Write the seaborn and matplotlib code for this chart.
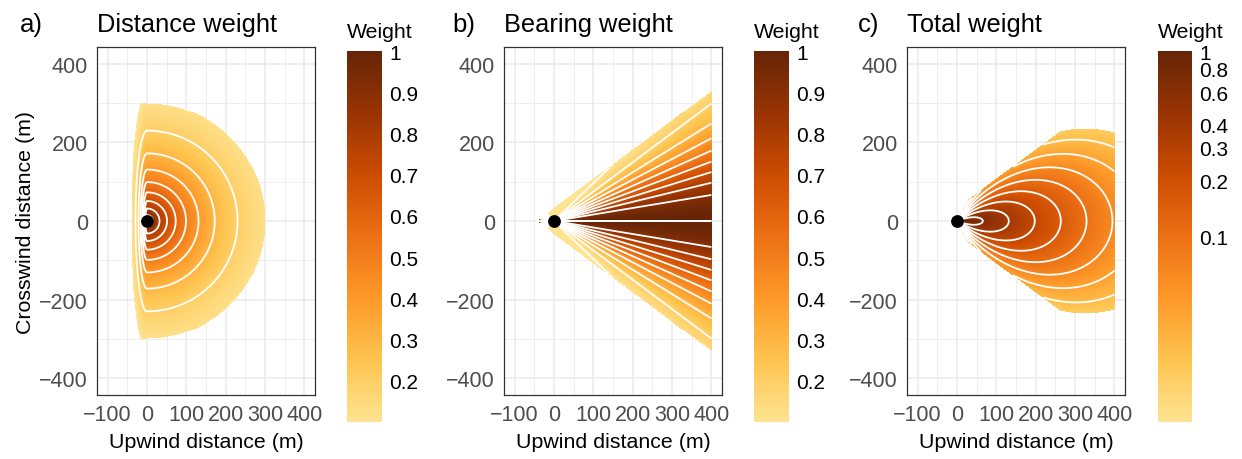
import numpy as np
import matplotlib
matplotlib.use('Agg')
import matplotlib.pyplot as plt
from matplotlib.colors import LinearSegmentedColormap, Normalize, LogNorm
from matplotlib.ticker import NullLocator
import seaborn as sns

# model parameters
DIST_SCALE = 143      # m, e-folding distance of the distance weight
DIST_MAX = 300        # m, cut-off radius of panel a
LEFT_EDGE = -38       # m, downwind edge of panel a on the wind axis
LEFT_BEND = 21        # m, how far that edge bends back at +-300 m
LEFT_SQUEEZE = 7.9    # compression of downwind distances in panel a
BEARING_SD = 20.5     # deg, spread of the bearing weight (panel b)
BEARING_SD_TOTAL = 23 # deg, spread of the bearing term in the total (panel c)
APEX_X = -45          # m, apex of the bearing wedge
WEDGE_HALF = 36.6     # deg, half angle of the wedge
X_END = 400           # m, upwind end of the grid
TOTAL_MIN = 0.018     # smallest total weight kept

# contour levels
dist_levels = [0.1, 0.2, 0.3, 0.4, 0.5, 0.6, 0.7, 0.8, 0.9]
bear_levels = [0.1, 0.2, 0.3, 0.4, 0.5, 0.6, 0.7, 0.8, 0.9, 0.99999]
total_levels = [0.0251, 0.0398, 0.0631, 0.1, 0.158, 0.251, 0.398, 0.631]

# axes ticks
x_ticks = [-100, 0, 100, 200, 300, 400]
x_minor = [-50, 50, 150, 250, 350]
y_ticks = [-400, -200, 0, 200, 400]
y_minor = [-300, -100, 100, 300]
lin_ticks = [0.2, 0.3, 0.4, 0.5, 0.6, 0.7, 0.8, 0.9, 1]
lin_labels = ['0.2', '0.3', '0.4', '0.5', '0.6', '0.7', '0.8', '0.9', '1']
log_ticks = [0.1, 0.2, 0.3, 0.4, 0.6, 0.8, 1]
log_labels = ['0.1', '0.2', '0.3', '0.4', '0.6', '0.8', '1']

palette = ['#fee391', '#fec44f', '#fe9929', '#ec7014', '#cc4c02', '#993404', '#662506']

# grid
xs = np.arange(-60, 402.5, 2.5)
ys = np.arange(-450, 452.5, 2.5)
X, Y = np.meshgrid(xs, ys)
r = np.hypot(X, Y)

# a) distance weight
r_eff = np.where(X < 0, np.hypot(LEFT_SQUEEZE * X, Y), r)
left_ok = (X >= LEFT_EDGE + LEFT_BEND * (np.abs(Y) / DIST_MAX) ** 4) & (np.abs(Y) <= DIST_MAX)
inside_a = np.where(X >= 0, r <= DIST_MAX, left_ok)
dist_w = np.where(inside_a, np.exp(-r_eff / DIST_SCALE), np.nan)

# b) bearing weight (angle to the wind axis, folded on the downwind side)
in_wedge = (np.abs(Y) <= np.tan(np.radians(WEDGE_HALF)) * (X - APEX_X)) & (X <= X_END)
theta_fold = np.degrees(np.arctan2(np.abs(Y), np.abs(X)))
bear = np.exp(-theta_fold ** 2 / (2 * BEARING_SD ** 2))
bear_w = np.where(in_wedge, bear, np.nan)

# c) total weight
theta = np.degrees(np.arctan2(np.abs(Y), X))
total = np.exp(-r / DIST_SCALE) * np.exp(-theta ** 2 / (2 * BEARING_SD_TOTAL ** 2))
total_w = np.where(in_wedge & (total >= TOTAL_MIN), total, np.nan)

sns.set_style('white')
plt.rcParams['font.family'] = ['Liberation Sans', 'DejaVu Sans']
plt.rcParams['text.color'] = 'black'
plt.rcParams['axes.labelcolor'] = 'black'

W, H = 1242, 460
fig = plt.figure(figsize=(W / 100, H / 100), dpi=100)


def rect(l, t, rr, b):
    return [l / W, 1 - b / H, (rr - l) / W, (b - t) / H]


cmap = LinearSegmentedColormap.from_list('ylorbr', palette)

panels = [
    (dist_w, Normalize(0.1, 1), dist_levels, 'a)', 'Distance weight', lin_ticks, lin_labels,
     (97, 315), (347, 382), 20),
    (bear_w, Normalize(0.1, 1), bear_levels, 'b)', 'Bearing weight', lin_ticks, lin_labels,
     (504, 722), (754, 789), 452),
    (total_w, LogNorm(0.01, 1), total_levels, 'c)', 'Total weight', log_ticks, log_labels,
     (907, 1125), (1158, 1192), 858),
]

for i, (Z, norm, levels, tag, title, cticks, clabels, (al, ar), (cl, cr), tag_x) in enumerate(panels):
    ax = fig.add_axes(rect(al, 48, ar, 396))
    cax = fig.add_axes(rect(cl, 52, cr, 423))
    ax.set_axisbelow(True)
    mesh = ax.pcolormesh(xs, ys, Z, cmap=cmap, norm=norm, shading='nearest')
    ax.contour(xs, ys, np.ma.masked_invalid(Z), levels=levels, colors='white', linewidths=1.3)
    sns.scatterplot(x=[0], y=[0], color='black', s=85, linewidth=0, ax=ax, zorder=5, legend=False)

    ax.set_xlim(-127, 427)
    ax.set_ylim(-443, 443)
    ax.set_xticks(x_ticks)
    ax.set_xticks(x_minor, minor=True)
    ax.set_yticks(y_ticks)
    ax.set_yticks(y_minor, minor=True)
    ax.set_xticklabels([str(v).replace('-', '\u2212') for v in x_ticks])
    ax.set_yticklabels([str(v).replace('-', '\u2212') for v in y_ticks])
    ax.grid(which='major', color='#ebebeb', linewidth=1.1)
    ax.grid(which='minor', color='#ebebeb', linewidth=0.55)
    ax.tick_params(which='major', length=4, width=0.9, color='#333333', labelsize=15.5,
                   labelcolor='#4d4d4d', pad=2.5)
    ax.tick_params(which='minor', length=0)
    for s in ax.spines.values():
        s.set_color('#333333')
        s.set_linewidth(0.9)
    ax.set_xlabel('Upwind distance (m)', fontsize=15.4, labelpad=5)
    if i == 0:
        ax.set_ylabel('Crosswind distance (m)', fontsize=15.4, labelpad=3)

    cb = fig.colorbar(mesh, cax=cax)
    cb.outline.set_visible(False)
    cb.set_ticks(cticks)
    cb.set_ticklabels(clabels)
    cax.yaxis.set_minor_locator(NullLocator())
    cax.tick_params(which='both', direction='in', left=True, right=True, color='white',
                    length=6, width=1, labelsize=15, labelcolor='black', pad=5)

    fig.text(cl / W, 1 - 32 / H, 'Weight', fontsize=15.3, va='center', ha='left')
    fig.text(al / W, 1 - 31.7 / H, title, fontsize=18.3, va='baseline', ha='left')
    fig.text(tag_x / W, 1 - 31.7 / H, tag, fontsize=18.5, va='baseline', ha='left')

fig.savefig('out.png', dpi=100)
